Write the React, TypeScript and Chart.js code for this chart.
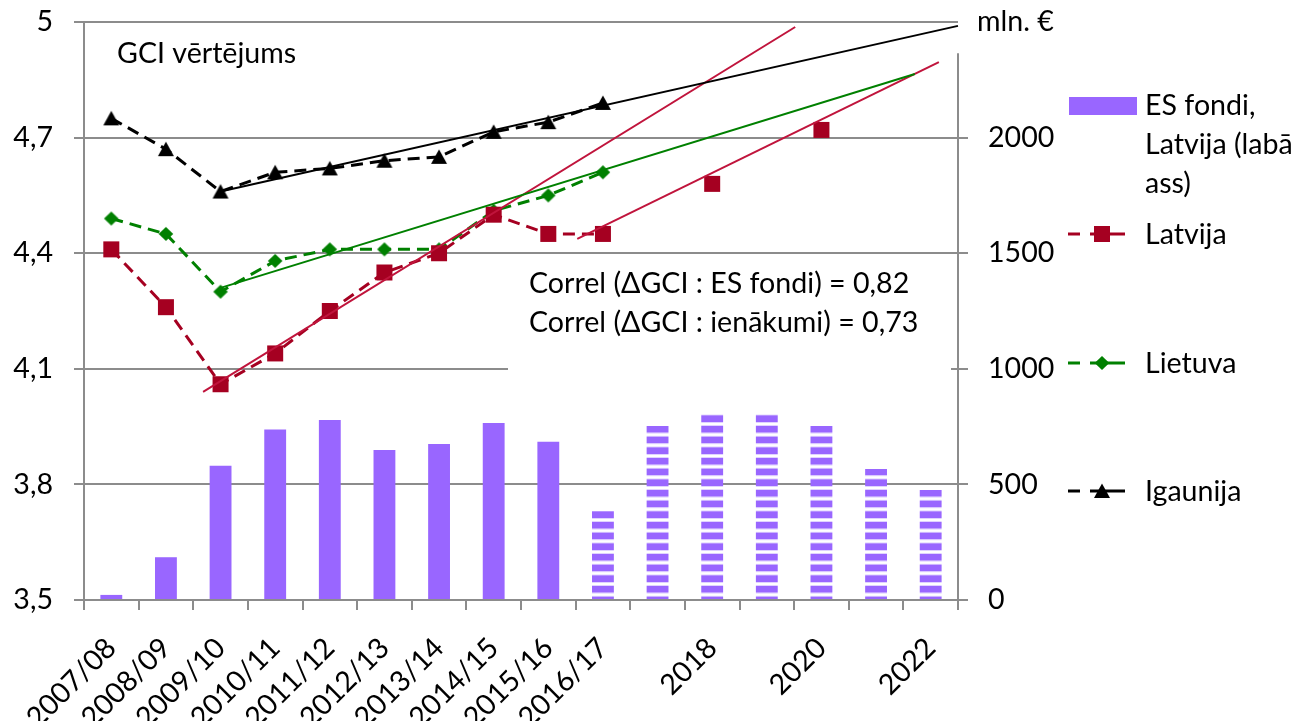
import React, { useEffect, useRef } from 'react';
import { Chart, registerables } from 'chart.js';

Chart.register(...registerables);

// ---------- data ----------
const CATEGORIES = ['2007/08', '2008/09', '2009/10', '2010/11', '2011/12', '2012/13', '2013/14', '2014/15', '2015/16', '2016/17', '2017', '2018', '2019', '2020', '2021', '2022'];
const TICK_LABELS = ['2007/08', '2008/09', '2009/10', '2010/11', '2011/12', '2012/13', '2013/14', '2014/15', '2015/16', '2016/17', '', '2018', '', '2020', '', '2022'];
const ES_FONDI = [22, 185, 581, 737, 779, 649, 675, 766, 685, 385, 753, 803, 803, 753, 567, 476];
const FORECAST_FROM_INDEX = 9;
const LATVIJA = [4.41, 4.26, 4.06, 4.14, 4.25, 4.35, 4.40, 4.50, 4.45, 4.45, null, 4.58, null, 4.72, null, null];
const LIETUVA = [4.49, 4.45, 4.30, 4.38, 4.41, 4.41, 4.41, 4.51, 4.55, 4.61, null, null, null, null, null, null];
const IGAUNIJA = [4.75, 4.67, 4.56, 4.61, 4.62, 4.64, 4.65, 4.715, 4.74, 4.79, null, null, null, null, null, null];
// trend lines: x in category-index units, y in GCI units
const TREND_IGAUNIJA = [{ x: 2, y: 4.56 }, { x: 15.5, y: 4.99 }];
const TREND_LIETUVA = [{ x: 2, y: 4.31 }, { x: 14.71, y: 4.865 }];
const TREND_LATVIJA_1 = [{ x: 1.68, y: 4.04 }, { x: 12.52, y: 4.987 }];
const TREND_LATVIJA_2 = [{ x: 8.53, y: 4.437 }, { x: 15.15, y: 4.896 }];
const LEFT_MIN = 3.5;
const LEFT_MAX = 5;
const LEFT_STEP = 0.3;
const RIGHT_MIN = 0;
const RIGHT_MAX = 2500;
const RIGHT_STEP = 500;
const RIGHT_AXIS_TOP = 2365;
const RIGHT_TICKS = [0, 500, 1000, 1500, 2000];
const TITLE = 'GCI vērtējums';
const UNIT = 'mln. €';
const CORREL_1 = 'Correl (ΔGCI : ES fondi) = 0,82';
const CORREL_2 = 'Correl (ΔGCI : ienākumi) = 0,73';
const LEGEND_BARS = ['ES fondi,', 'Latvija (labā', 'ass)'];
const LEGEND_LINES = ['Latvija', 'Lietuva', 'Igaunija'];

// ---------- style ----------
const FONT = 'Lato';
const FS = 28.6;
const PURPLE = '#9966ff';
const RED = '#a50021';
const TREND_RED = '#c0143c';
const GREEN = '#008000';
const BLACK = '#000000';
const GRID = '#8c8c8c';

function makeStripes(ctx: CanvasRenderingContext2D): CanvasPattern | string {
  const c = document.createElement('canvas');
  c.width = 8;
  c.height = 32;
  const g = c.getContext('2d');
  if (!g) return PURPLE;
  const period = 32 / 3;
  g.fillStyle = '#ffffff';
  g.fillRect(0, 0, 8, 32);
  for (let k = 0; k < 3; k++) {
    const y0 = k * period;
    g.fillStyle = PURPLE;
    g.fillRect(0, y0, 8, 6.7);
    g.fillStyle = '#d9c9ff';
    g.fillRect(0, y0 + 6.7, 8, 0.8);
    g.fillRect(0, y0 + period - 0.8, 8, 0.8);
  }
  const p = ctx.createPattern(c, 'repeat');
  if (!p) return PURPLE;
  try {
    p.setTransform(new DOMMatrix().translate(0, 10));
  } catch (e) { /* ignore */ }
  return p;
}

function fmtLeft(v: number): string {
  const r = Math.round(v * 10) / 10;
  if (Number.isInteger(r)) return String(r);
  return r.toFixed(1).replace('.', ',');
}

function traceMarker(g: CanvasRenderingContext2D, kind: string, x: number, y: number) {
  g.beginPath();
  if (kind === 'rect') {
    g.rect(x - 8, y - 8, 16, 16);
  } else if (kind === 'diamond') {
    g.moveTo(x, y - 7);
    g.lineTo(x + 7.3, y);
    g.lineTo(x, y + 7);
    g.lineTo(x - 7.3, y);
    g.closePath();
  } else {
    g.moveTo(x, y - 7.5);
    g.lineTo(x + 8, y + 7);
    g.lineTo(x - 8, y + 7);
    g.closePath();
  }
}

function markerImage(kind: string, color: string): HTMLCanvasElement {
  const c = document.createElement('canvas');
  c.width = 18;
  c.height = 18;
  const g = c.getContext('2d');
  if (g) {
    g.fillStyle = color;
    traceMarker(g, kind, 9, 9);
    g.fill();
  }
  return c;
}

function drawMarker(ctx: CanvasRenderingContext2D, kind: string, x: number, y: number, color: string) {
  ctx.fillStyle = color;
  traceMarker(ctx, kind, x, y);
  ctx.fill();
}

const annotations = {
  id: 'annotations',
  beforeDatasetsDraw(chart: any) {
    const ctx: CanvasRenderingContext2D = chart.ctx;
    const y2 = chart.scales.y2;
    const area = chart.chartArea;
    ctx.save();
    // text box with white background
    ctx.fillStyle = '#ffffff';
    ctx.fillRect(508, 255, area.right - 7 - 508, 140);
    ctx.fillStyle = '#000';
    ctx.font = `${FS}px ${FONT}`;
    ctx.textAlign = 'left';
    ctx.textBaseline = 'alphabetic';
    ctx.fillText(CORREL_1, 529, 293);
    ctx.fillText(CORREL_2, 529, 332);
    // right axis line
    ctx.strokeStyle = GRID;
    ctx.lineWidth = 2;
    const x = Math.round(area.right);
    ctx.beginPath();
    ctx.moveTo(x, y2.getPixelForValue(RIGHT_AXIS_TOP));
    ctx.lineTo(x, area.bottom);
    ctx.stroke();
    for (const v of RIGHT_TICKS) {
      const y = Math.round(y2.getPixelForValue(v));
      ctx.beginPath();
      ctx.moveTo(x - 7, y);
      ctx.lineTo(x, y);
      ctx.stroke();
    }
    ctx.restore();
  },
  afterDraw(chart: any) {
    const ctx: CanvasRenderingContext2D = chart.ctx;
    ctx.save();
    ctx.font = `${FS}px ${FONT}`;
    ctx.fillStyle = '#000';
    ctx.textAlign = 'left';
    ctx.textBaseline = 'alphabetic';
    ctx.fillText(TITLE, 117, 63);
    ctx.textBaseline = 'middle';
    ctx.fillText(UNIT, 977, 22);
    ctx.textBaseline = 'alphabetic';

    // legend: bars
    ctx.fillStyle = PURPLE;
    ctx.fillRect(1069, 97, 68, 18);
    ctx.fillStyle = '#000';
    LEGEND_BARS.forEach((t, i) => ctx.fillText(t, 1145, 115 + i * 39));

    // legend: lines
    const items = [
      { color: RED, kind: 'rect', y: 234, base: 244 },
      { color: GREEN, kind: 'diamond', y: 363, base: 373 },
      { color: BLACK, kind: 'triangle', y: 491, base: 501 },
    ];
    items.forEach((it, i) => {
      ctx.strokeStyle = it.color;
      ctx.lineWidth = 3;
      ctx.setLineDash([12, 10, 35, 100]);
      ctx.beginPath();
      ctx.moveTo(1068, it.y);
      ctx.lineTo(1125, it.y);
      ctx.stroke();
      ctx.setLineDash([]);
      drawMarker(ctx, it.kind, 1102, it.y, it.color);
      ctx.fillStyle = '#000';
      ctx.fillText(LEGEND_LINES[i], 1145, it.base);
    });
    ctx.restore();
  },
};

export default function App() {
  const ref = useRef<HTMLCanvasElement | null>(null);

  useEffect(() => {
    const canvas = ref.current;
    if (!canvas) return;
    const ctx = canvas.getContext('2d');
    if (!ctx) return;
    const stripes = makeStripes(ctx);
    const barColors = ES_FONDI.map((_, i) => (i >= FORECAST_FROM_INDEX ? stripes : PURPLE));
    const font = { family: FONT, size: FS };

    const seriesLine = (label: string, data: (number | null)[], color: string, kind: string) => ({
      type: 'line' as const,
      label,
      data,
      xAxisID: 'x',
      yAxisID: 'y',
      borderColor: color,
      backgroundColor: color,
      borderWidth: 3,
      borderDash: [12, 7],
      pointStyle: markerImage(kind, color),
      pointRadius: 9,
      spanGaps: false,
      tension: 0,
      order: 2,
      clip: false as any,
    });

    const trend = (data: { x: number; y: number }[], color: string) => ({
      type: 'line' as const,
      label: '',
      data,
      xAxisID: 'xl',
      yAxisID: 'y',
      borderColor: color,
      borderWidth: 2,
      pointRadius: 0,
      tension: 0,
      order: 1,
      clip: false as any,
    });

    const noVerticalPadding = (s: any) => {
      s.paddingTop = 0;
      s.paddingBottom = 0;
    };

    const chart = new Chart(ctx, {
      type: 'bar',
      data: {
        labels: CATEGORIES,
        datasets: [
          {
            type: 'bar',
            label: 'ES fondi, Latvija (labā ass)',
            data: ES_FONDI,
            xAxisID: 'x',
            yAxisID: 'y2',
            backgroundColor: barColors as any,
            borderWidth: 0,
            grouped: false,
            barPercentage: 0.4,
            categoryPercentage: 1,
            order: 10,
          },
          seriesLine('Latvija', LATVIJA, RED, 'rect'),
          seriesLine('Lietuva', LIETUVA, GREEN, 'diamond'),
          seriesLine('Igaunija', IGAUNIJA, BLACK, 'triangle'),
          trend(TREND_IGAUNIJA, BLACK),
          trend(TREND_LIETUVA, GREEN),
          trend(TREND_LATVIJA_1, TREND_RED),
          trend(TREND_LATVIJA_2, TREND_RED),
        ] as any,
      },
      options: {
        responsive: false,
        animation: false,
        events: [],
        layout: { padding: { top: 22, left: 0, right: 0, bottom: 0 } },
        plugins: {
          legend: { display: false },
          tooltip: { enabled: false },
          title: { display: false },
        },
        scales: {
          x: {
            type: 'category',
            position: 'bottom',
            offset: true,
            grid: {
              offset: true,
              drawOnChartArea: false,
              drawTicks: true,
              tickLength: 10,
              color: GRID,
              lineWidth: 2,
            },
            border: { display: true, color: GRID, width: 2 },
            ticks: {
              font,
              color: '#000',
              autoSkip: false,
              minRotation: 45,
              maxRotation: 45,
              padding: 21,
              callback: (_v: any, i: number) => TICK_LABELS[i],
            },
            afterFit: (s: any) => { s.height = 121; },
          },
          xl: {
            type: 'linear',
            display: false,
            offset: false,
            min: -0.5,
            max: 15.5,
          },
          y: {
            type: 'linear',
            position: 'left',
            min: LEFT_MIN,
            max: LEFT_MAX,
            grid: {
              color: GRID,
              lineWidth: 2,
              tickLength: 10,
              drawTicks: true,
            },
            border: { display: true, color: GRID, width: 2 },
            ticks: {
              stepSize: LEFT_STEP,
              font,
              color: '#000',
              padding: 21,
              callback: (v: any) => fmtLeft(Number(v)),
            },
            afterFit: (s: any) => { s.width = 84; noVerticalPadding(s); },
          },
          y2: {
            type: 'linear',
            position: 'right',
            min: RIGHT_MIN,
            max: RIGHT_MAX,
            grid: {
              drawOnChartArea: false,
              tickLength: 10,
              lineWidth: 2,
              color: (c: any) => (c.tick && c.tick.value > 2000 ? 'rgba(0,0,0,0)' : GRID),
            },
            border: { display: false },
            ticks: {
              stepSize: RIGHT_STEP,
              font,
              color: '#000',
              padding: 20,
              callback: (v: any) => (Number(v) > 2000 ? '' : String(v)),
            },
            afterFit: (s: any) => { s.width = 1303 - 958; noVerticalPadding(s); },
          },
        },
      } as any,
      plugins: [annotations],
    });

    return () => chart.destroy();
  }, []);

  return (
    <div style={{ position: 'absolute', left: 0, top: 0, width: 1303, height: 721, background: '#fff' }}>
      <canvas ref={ref} width={1303} height={721} style={{ display: 'block' }} />
    </div>
  );
}
